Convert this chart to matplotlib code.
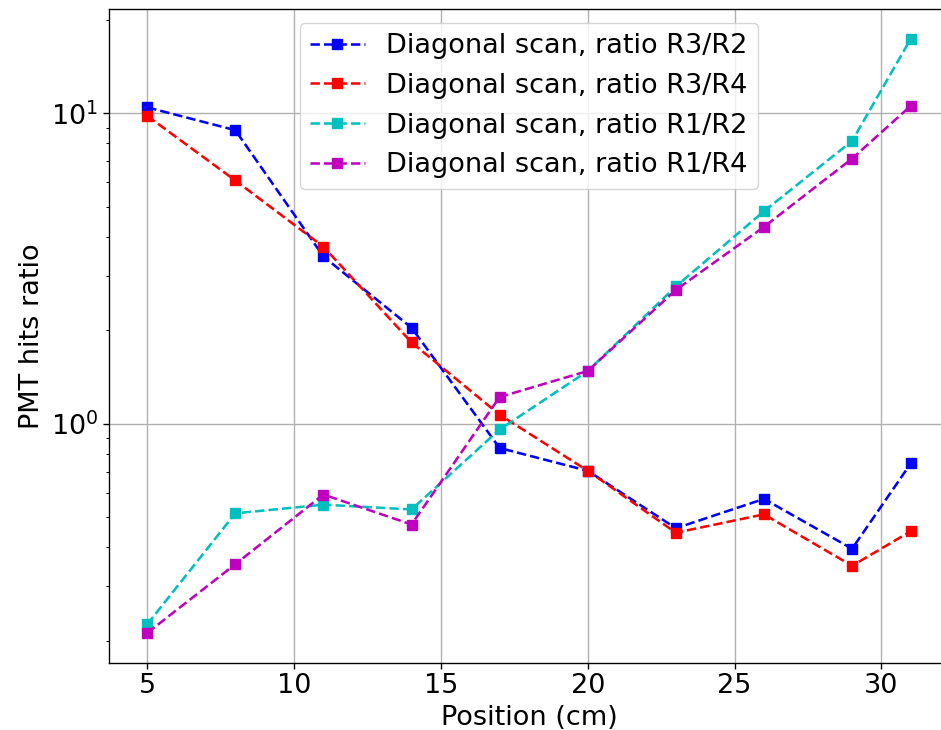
"""
PMT hits ratio along the diagonal scan (log scale).
"""

import matplotlib
matplotlib.use("Agg")
import matplotlib.pyplot as plt

# the reference looks like a 16 pt figure scaled up ~1.22x
S = 1.22
plt.rcParams.update({
    "font.size": 16 * S,
    "font.family": "DejaVu Sans",
    "xtick.major.size": 3.5 * S,
    "ytick.major.size": 3.5 * S,
    "ytick.minor.size": 2.0 * S,
    "xtick.major.width": 0.8 * S,
    "ytick.major.width": 0.8 * S,
    "ytick.minor.width": 0.6 * S,
    "axes.linewidth": 0.8 * S,
    "grid.linewidth": 0.8 * S,
})

position = [5, 8, 11, 14, 17, 20, 23, 26, 29, 31]

ratio_r3_r2 = [10.46, 8.83, 3.46, 2.04, 0.836, 0.706, 0.461, 0.573, 0.396, 0.746]
ratio_r3_r4 = [9.82, 6.08, 3.72, 1.83, 1.07, 0.706, 0.446, 0.511, 0.349, 0.451]
ratio_r1_r2 = [0.226, 0.515, 0.549, 0.530, 0.959, 1.48, 2.77, 4.84, 8.15, 17.4]
ratio_r1_r4 = [0.212, 0.353, 0.592, 0.474, 1.22, 1.48, 2.70, 4.31, 7.15, 10.58]

series = [
    (ratio_r3_r2, "b", "Diagonal scan, ratio R3/R2"),
    (ratio_r3_r4, "r", "Diagonal scan, ratio R3/R4"),
    (ratio_r1_r2, "c", "Diagonal scan, ratio R1/R2"),
    (ratio_r1_r4, "m", "Diagonal scan, ratio R1/R4"),
]

fig = plt.figure(figsize=(9.41, 7.30), dpi=100)
# axes runs a little past the right edge, as in the (cropped) reference
ax = fig.add_axes([109 / 941, 67.3 / 730, 840 / 941, 653.7 / 730])

for values, color, label in series:
    ax.plot(position, values, color=color, ls="--", marker="s",
            markersize=6 * S, linewidth=1.5 * S, label=label)

ax.set_yscale("log")
ax.set_xlabel("Position (cm)")
ax.set_ylabel("PMT hits ratio")
ax.grid(True)
ax.legend(loc="upper center")
ax.spines["right"].set_visible(False)

fig.savefig("out.png", dpi=100)
